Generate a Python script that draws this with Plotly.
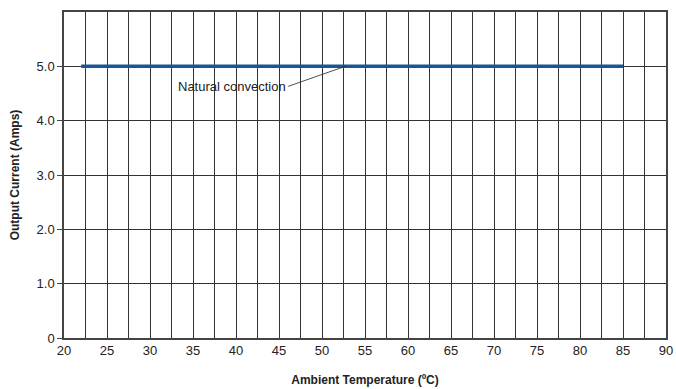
import plotly.graph_objects as go

# derating curve: natural convection
temp_c = [22, 85]
current_a = [5.0, 5.0]

x_ticks = list(range(20, 95, 5))
y_ticks = [0, 1, 2, 3, 4, 5]
y_labels = ["0", "1.0", "2.0", "3.0", "4.0", "5.0"]

font_family = "Liberation Sans Narrow, Arial Narrow, Liberation Sans, sans-serif"

fig = go.Figure()
fig.add_trace(go.Scatter(
    x=temp_c,
    y=current_a,
    mode="lines",
    line=dict(color="#1b5693", width=3.5),
    showlegend=False,
))

fig.add_annotation(
    x=52.7, y=5.0,
    ax=-57, ay=20,
    text="Natural convection",
    showarrow=True,
    arrowhead=0,
    arrowwidth=0.8,
    arrowcolor="#222",
    xanchor="right",
    font=dict(family=font_family, size=13, color="#222"),
)

fig.update_layout(
    width=676, height=389,
    margin=dict(l=64, r=10, t=12, b=51),
    plot_bgcolor="white",
    paper_bgcolor="white",
    font=dict(family=font_family, size=13, color="#222"),
)

fig.update_xaxes(
    range=[20, 90],
    tickvals=x_ticks,
    showgrid=True,
    gridcolor="#333",
    gridwidth=1,
    minor=dict(dtick=2.5, tick0=20, showgrid=True, gridcolor="#333", gridwidth=1),
    showline=True, linecolor="#444", linewidth=1.5, mirror=True,
    ticks="", zeroline=False, automargin=False,
    title=dict(text="<b>Ambient Temperature (ºC)</b>", font=dict(size=12), standoff=18),
)
fig.update_yaxes(
    range=[0, 6],
    tickvals=y_ticks,
    ticktext=y_labels,
    showgrid=True,
    gridcolor="#333",
    gridwidth=1,
    showline=True, linecolor="#444", linewidth=1.5, mirror=True,
    ticks="outside", ticklen=5, tickcolor="#444",
    zeroline=False, automargin=False,
    title=dict(text="<b>Output Current (Amps)</b>", font=dict(size=12), standoff=14),
)

# page has a default 8px body margin; drop it so the figure fills the window
fig.write_html(
    "out.html",
    config={"displayModeBar": False},
    post_script="document.body.style.margin='0';",
)
